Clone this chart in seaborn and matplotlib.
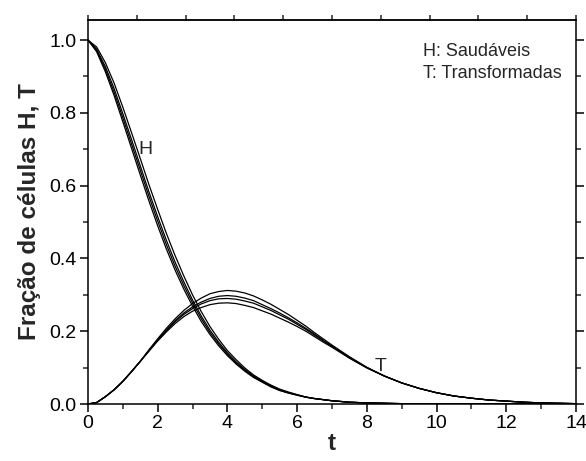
import numpy as np
import pandas as pd
import matplotlib
matplotlib.use("Agg")
import matplotlib.pyplot as plt
import seaborn as sns
from matplotlib.ticker import MultipleLocator, FormatStrFormatter

# time grid
t = [0, 0.25, 0.5, 0.75, 1.0, 1.25, 1.5, 1.75, 2.0, 2.25, 2.5, 2.75, 3.0, 3.25, 3.5, 3.75,
     4.0, 4.25, 4.5, 4.75, 5.0, 5.25, 5.5, 5.75, 6.0, 6.25, 6.5, 6.75, 7.0,
     7.5, 8.0, 8.5, 9.0, 9.5, 10.0, 10.5, 11.0, 11.5, 12.0, 12.5, 13.0, 13.5, 14.0]

H_tail = [0.005, 0.003, 0.002, 0.001, 0.0005, 0.0003, 0, 0, 0, 0, 0, 0, 0, 0]

# healthy cells H (four runs)
H1 = [1.000, 0.968, 0.913, 0.848, 0.776, 0.703, 0.630, 0.558, 0.490, 0.426, 0.368, 0.316, 0.269, 0.227, 0.191, 0.160,
      0.133, 0.110, 0.090, 0.073, 0.060, 0.047, 0.037, 0.030, 0.024, 0.019, 0.015, 0.012, 0.009] + H_tail
H2 = [1.000, 0.972, 0.920, 0.857, 0.787, 0.715, 0.643, 0.571, 0.503, 0.438, 0.379, 0.326, 0.278, 0.235, 0.197, 0.165,
      0.137, 0.113, 0.093, 0.075, 0.061, 0.048, 0.038, 0.031, 0.025, 0.019, 0.015, 0.012, 0.009] + H_tail
H3 = [1.000, 0.975, 0.927, 0.867, 0.798, 0.727, 0.655, 0.583, 0.515, 0.450, 0.390, 0.336, 0.286, 0.242, 0.203, 0.170,
      0.141, 0.116, 0.095, 0.077, 0.063, 0.050, 0.039, 0.031, 0.025, 0.019, 0.015, 0.012, 0.009] + H_tail
H4 = [1.000, 0.981, 0.938, 0.882, 0.816, 0.746, 0.675, 0.603, 0.535, 0.469, 0.408, 0.352, 0.300, 0.254, 0.213, 0.178,
      0.147, 0.122, 0.099, 0.080, 0.065, 0.052, 0.041, 0.033, 0.026, 0.019, 0.015, 0.012, 0.009] + H_tail

T_tail = [0.077, 0.058, 0.043, 0.031, 0.022, 0.016, 0.011, 0.008, 0.005, 0.003, 0.002, 0.001]

# transformed cells T (four runs)
T1 = [0, 0.004, 0.020, 0.039, 0.062, 0.089, 0.117, 0.149, 0.179, 0.208, 0.234, 0.257, 0.276, 0.291, 0.303, 0.309,
      0.312, 0.310, 0.305, 0.297, 0.286, 0.274, 0.260, 0.246, 0.230, 0.214, 0.196, 0.179, 0.162, 0.130, 0.101] + T_tail
T2 = [0, 0.004, 0.020, 0.039, 0.062, 0.089, 0.117, 0.147, 0.176, 0.203, 0.229, 0.250, 0.267, 0.280, 0.290, 0.296,
      0.298, 0.296, 0.291, 0.284, 0.273, 0.262, 0.250, 0.237, 0.223, 0.208, 0.192, 0.175, 0.159, 0.128, 0.100] + T_tail
T3 = [0, 0.004, 0.020, 0.039, 0.062, 0.089, 0.117, 0.146, 0.175, 0.201, 0.226, 0.246, 0.262, 0.275, 0.284, 0.289,
      0.290, 0.288, 0.283, 0.277, 0.267, 0.257, 0.245, 0.233, 0.219, 0.205, 0.189, 0.174, 0.158, 0.127, 0.100] + T_tail
T4 = [0, 0.004, 0.020, 0.039, 0.062, 0.089, 0.117, 0.145, 0.173, 0.198, 0.221, 0.240, 0.255, 0.265, 0.273, 0.277,
      0.278, 0.276, 0.271, 0.265, 0.256, 0.247, 0.236, 0.225, 0.213, 0.200, 0.185, 0.170, 0.156, 0.126, 0.099] + T_tail

series = {"H1": H1, "H2": H2, "H3": H3, "H4": H4, "T1": T1, "T2": T2, "T3": T3, "T4": T4}
rows = []
for name, vals in series.items():
    for tt, v in zip(t, vals):
        rows.append({"t": tt, "v": v, "curve": name})
df = pd.DataFrame(rows)

sns.set_style("ticks")
plt.rcParams["font.family"] = ["Liberation Sans", "DejaVu Sans"]

fig = plt.figure(figsize=(5.86, 4.61), dpi=100)
ax = fig.add_axes([0.150, 0.1236, 0.833, 0.833])

sns.lineplot(data=df, x="t", y="v", units="curve", estimator=None, color="black",
             linewidth=0.9, sort=False, ax=ax)

ax.set_xlim(0, 14)
ax.set_ylim(0, 1.055)
ax.xaxis.set_major_locator(MultipleLocator(2))
ax.xaxis.set_minor_locator(MultipleLocator(1))
ax.yaxis.set_major_locator(MultipleLocator(0.2))
ax.yaxis.set_minor_locator(MultipleLocator(0.1))
ax.yaxis.set_major_formatter(FormatStrFormatter("%.1f"))
ax.tick_params(axis="both", which="major", direction="out", length=6, width=1.1,
               labelsize=14, colors="black", right=True, top=False, pad=2)
ax.tick_params(axis="both", which="minor", direction="out", length=3.5, width=1.1,
               right=True, top=False)

# top axis ticks
axt = ax.secondary_xaxis("top")
axt.xaxis.set_major_locator(MultipleLocator(1.4))
axt.tick_params(direction="out", length=3.5, width=1.1, labeltop=False)

for s in ax.spines.values():
    s.set_linewidth(1.1)
    s.set_color("black")
for s in axt.spines.values():
    s.set_linewidth(1.1)

ax.set_xlabel("t", fontsize=17.5, fontweight="bold", labelpad=0)
ax.set_ylabel("Fração de células H, T", fontsize=17.5, fontweight="bold", labelpad=6)

ax.text(1.66, 0.70, "H", fontsize=14, ha="center", va="center")
ax.text(8.40, 0.102, "T", fontsize=14, ha="center", va="center")
ax.text(0.687, 0.918, "H: Saudáveis", transform=ax.transAxes, fontsize=13, ha="left", va="center")
ax.text(0.687, 0.861, "T: Transformadas", transform=ax.transAxes, fontsize=13, ha="left", va="center")

fig.savefig("out.png", dpi=100)
